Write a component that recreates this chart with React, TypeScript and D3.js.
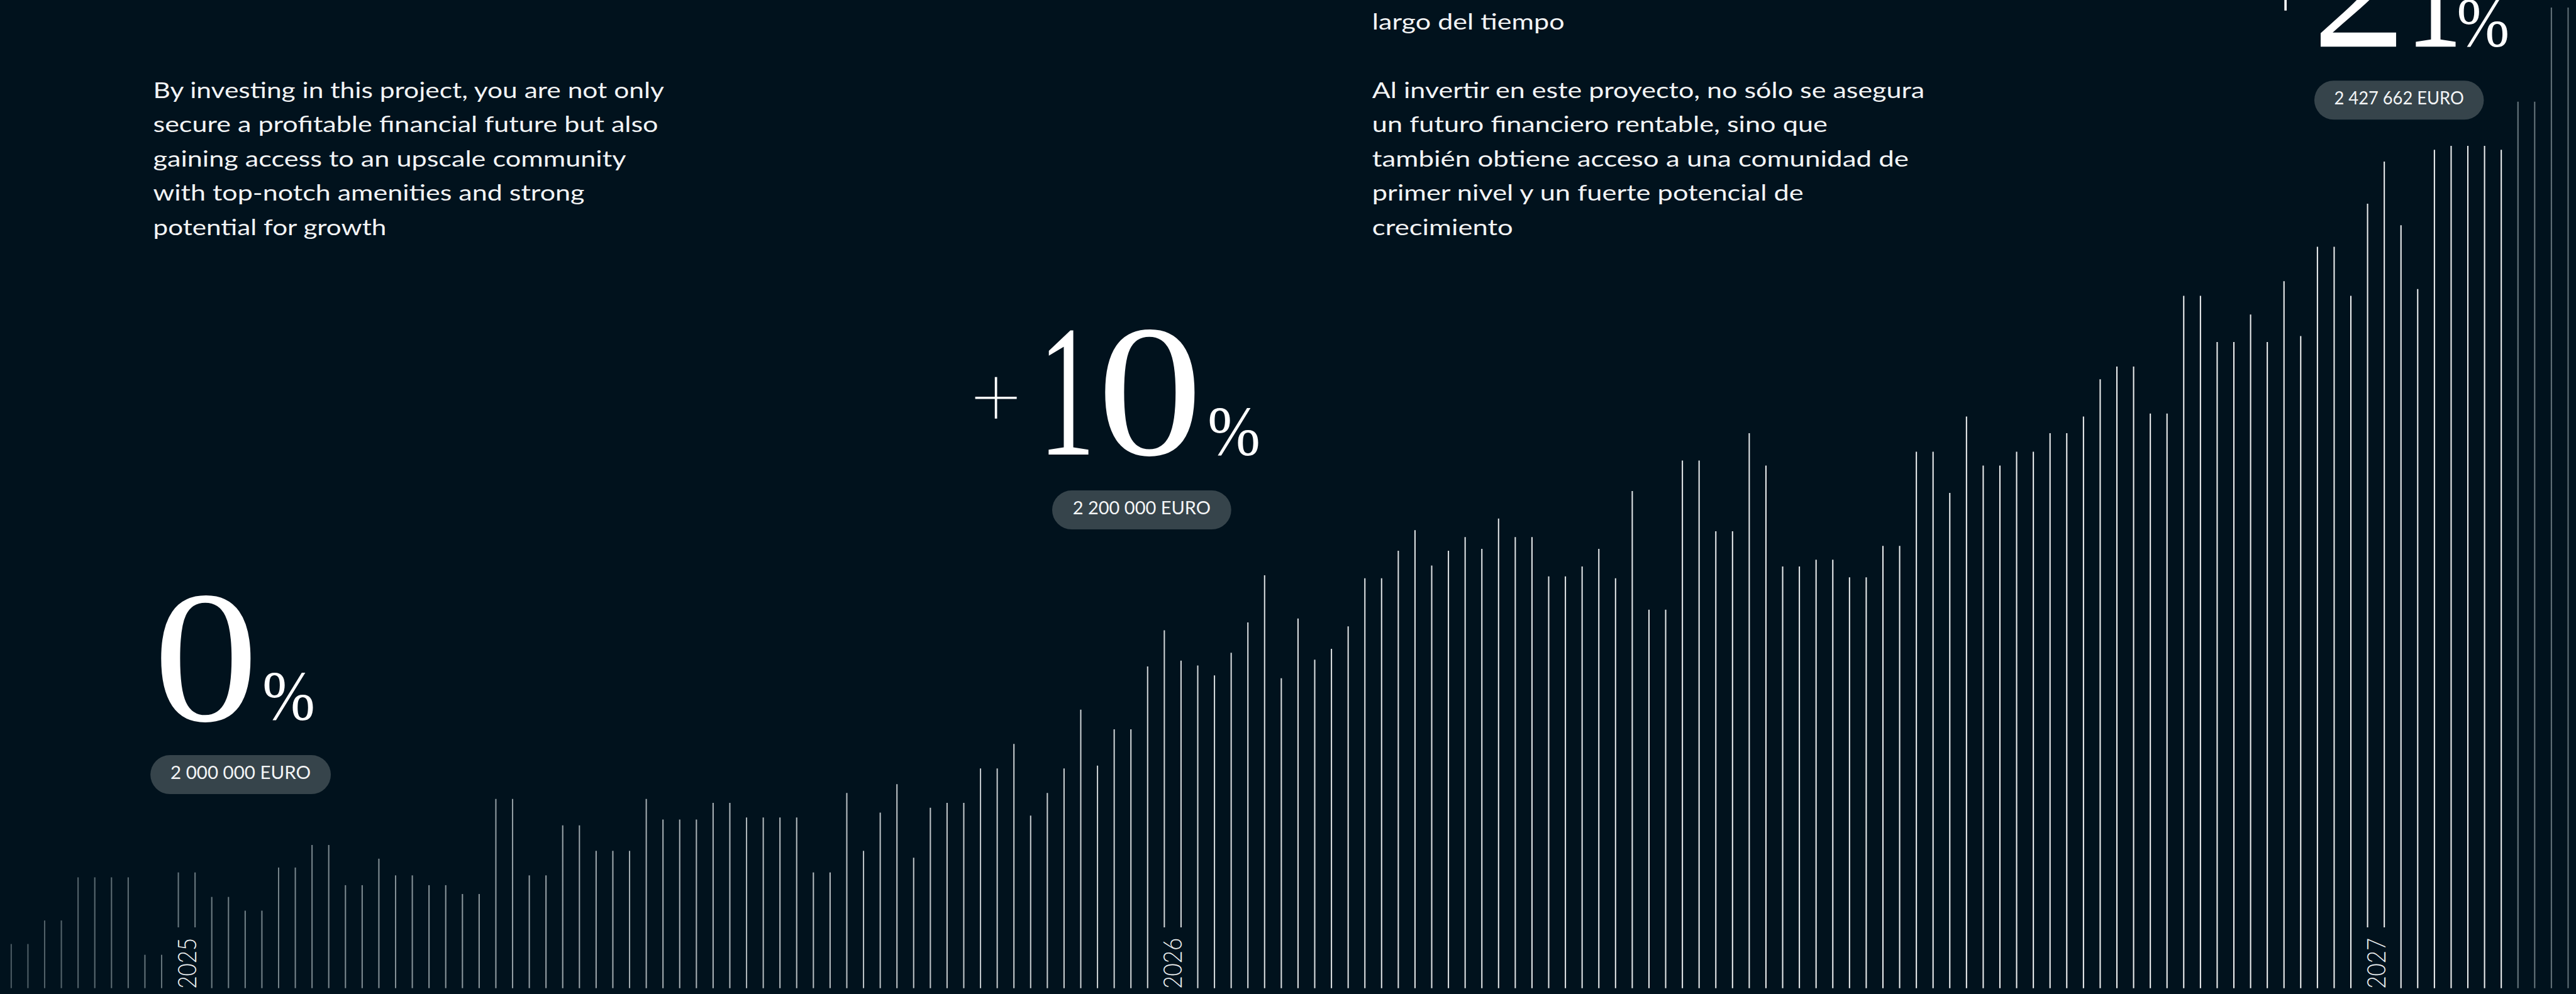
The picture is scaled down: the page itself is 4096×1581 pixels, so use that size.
import React from 'react';
import * as d3 from 'd3';

// ---------- data ----------
const barValues = [
  4.5, 4.5, 6.9, 6.9, 11.3, 11.3, 11.3, 11.3, 3.4, 3.4, 11.8, 11.8, 9.3, 9.3, 7.9, 7.9, 12.3, 12.3, 14.6, 14.6,
  10.5, 10.5, 13.2, 11.5, 11.5, 10.5, 10.5, 9.6, 9.6, 19.3, 19.3, 11.5, 11.5, 16.6, 16.6, 14.0, 14.0, 14.0,
  19.3, 17.2, 17.2, 17.2, 18.9, 18.9, 17.4, 17.4, 17.4, 17.4, 11.8, 11.8, 19.9, 14.0, 17.9, 20.8, 13.3, 18.4,
  18.9, 18.9, 22.4, 22.4, 24.9, 17.6, 19.9, 22.4, 28.4, 22.7, 26.4, 26.4, 32.8, 36.5, 33.4, 32.9, 31.9, 34.2,
  37.3, 42.1, 31.6,
  37.7, 33.5, 34.6, 36.9, 41.8, 41.8, 44.6, 46.7, 43.1, 44.6, 46.0, 44.8, 47.9, 46.0, 46.0, 42.0, 42.0, 43.0,
  44.8, 41.8, 50.7, 38.6, 38.6, 53.8, 53.8, 46.6, 46.6, 56.6, 53.3, 43.0, 43.0, 43.7, 43.7, 41.9, 41.9, 45.1,
  45.1, 54.7,
  54.7, 50.5, 58.3, 53.3, 53.3, 54.7, 54.7, 56.6, 56.6, 58.3, 62.1, 63.4, 63.4, 58.6, 58.6, 70.6, 70.6, 65.9,
  65.9, 68.7, 65.9, 72.1, 66.5, 75.6, 75.6, 70.6, 80.0, 84.3, 77.8, 71.3, 85.5, 85.9, 85.9, 85.9, 85.5, 90.4,
  90.4, 100, 100,
];

const yearLabels = ['2025', '2026', '2027'];
const yearBarIndex = [10, 69, 141]; // label sits between bar i and i+1

const milestonePct = [0, 10, 21];
const milestoneAmount = [2000000, 2200000, 2427662];

const englishLines = [
  'By investing in this project, you are not only',
  'secure a profitable financial future but also',
  'gaining access to an upscale community',
  'with top-notch amenities and strong',
  'potential for growth',
];

const spanishLines = [
  'ofrece una rentabilidad estable (y segura) a lo',
  'largo del tiempo',
  '',
  'Al invertir en este proyecto, no sólo se asegura',
  'un futuro financiero rentable, sino que',
  'también obtiene acceso a una comunidad de',
  'primer nivel y un fuerte potencial de',
  'crecimiento',
];

// ---------- layout (reference pixel space) ----------
const REF_W = 4407;
const S = 4096 / REF_W;
const BASE = 1691;
const GAP_END = 1587;

const englishWidths = [874, 864, 809, 738, 399];
const spanishWidths = [0, 329, 0, 945, 779, 918, 738, 241];
const LINE_H = 58.6;
const PARA_BASE = 167.5;

const digitScaleX: Record<string, number> = { '0': 1.12, '1': 0.6, '2': 1 };

const milestoneLayout = [
  { digitX: [262], base: 1233, plus: [0, 0], pctX: 449, pctBase: 1232, pill: [257.3, 1292.3, 308.7], tw: 240 },
  { digitX: [1777, 1877], base: 778, plus: [1704, 672], pctX: 2066, pctBase: 779, pill: [1800, 839.3, 306.4], tw: 236 },
  { digitX: [3956, 4116], base: 80, plus: [3910, -27], pctX: 4203, pctBase: 80, pill: [3959.3, 138, 290], tw: 222 },
];

const fmtAmount = (v: number) => d3.format(',')(v).replace(/,/g, ' ') + ' EURO';

export default function App() {
  const x = d3.scaleLinear().domain([0, barValues.length - 1]).range([19.2, 4393.5]);
  const y = d3.scaleLinear().domain([0, 100]).range([BASE, 13]);

  const gapSet = new Set<number>();
  yearBarIndex.forEach((i) => { gapSet.add(i); gapSet.add(i + 1); });

  const sans = 'Lato, "Noto Sans", sans-serif';
  const serif = '"Liberation Serif", "DejaVu Serif", serif';

  return (
    <svg width={4096} height={1581} style={{ position: 'fixed', left: 0, top: 0, display: 'block' }}>
      <rect width={4096} height={1581} fill="#01121d" />
      <g transform={`scale(${S})`}>
        <defs>
          <linearGradient id="barGrad" gradientUnits="userSpaceOnUse" x1={0} y1={0} x2={REF_W} y2={0}>
            <stop offset={0} stopColor="#4a5a62" />
            <stop offset={0.08} stopColor="#6d7c83" />
            <stop offset={0.3} stopColor="#b3babe" />
            <stop offset={0.5} stopColor="#dde1e3" />
            <stop offset={0.8} stopColor="#eef0f1" />
            <stop offset={0.972} stopColor="#eef0f1" />
            <stop offset={0.9755} stopColor="#6a7980" />
            <stop offset={1} stopColor="#5f6e75" />
          </linearGradient>
        </defs>

        {/* bars */}
        <g>
          {barValues.map((v, i) => (
            <line
              key={i}
              x1={x(i)}
              x2={x(i)}
              y1={y(v)}
              y2={gapSet.has(i) ? GAP_END : BASE}
              stroke="url(#barGrad)"
              strokeWidth={2.2}
            />
          ))}
        </g>

        {/* year labels */}
        <g>
          {yearLabels.map((t, k) => {
            const cx = (x(yearBarIndex[k]) + x(yearBarIndex[k] + 1)) / 2;
            const bx = cx + 15.8;
            const by = 1692;
            return (
              <text
                key={t}
                transform={`translate(${bx},${by}) rotate(-90)`}
                fontFamily={sans}
                fontWeight={300}
                fontSize={44}
                fill="#eef1f2"
                textLength={87}
                lengthAdjust="spacingAndGlyphs"
              >
                {t}
              </text>
            );
          })}
        </g>

        {/* paragraphs */}
        <g fontFamily={sans} fontWeight={400} fontSize={38} fill="#f2f4f5">
          {englishLines.map((t, i) => (
            <text key={'e' + i} x={262} y={PARA_BASE + i * LINE_H} textLength={englishWidths[i]} lengthAdjust="spacingAndGlyphs">
              {t}
            </text>
          ))}
          {spanishLines.map((t, i) =>
            t ? (
              <text
                key={'s' + i}
                x={2347.5}
                y={PARA_BASE + (i - 3) * LINE_H}
                {...(spanishWidths[i] ? { textLength: spanishWidths[i], lengthAdjust: 'spacingAndGlyphs' } : {})}
              >
                {t}
              </text>
            ) : null
          )}
        </g>

        {/* milestones */}
        {milestonePct.map((p, k) => {
          const L = milestoneLayout[k];
          const digits = String(p).split('');
          const [px, py, pw] = L.pill;
          const ph = 66.7;
          return (
            <g key={'m' + k}>
              {p > 0 && (
                <text
                  x={L.plus[0]}
                  y={L.plus[1] + 58}
                  textAnchor="middle"
                  fontFamily='Inter, "DejaVu Sans", sans-serif'
                  fontWeight={100}
                  fontSize={172}
                  fill="#ffffff"
                >
                  +
                </text>
              )}
              {digits.map((d, j) => (
                <text
                  key={j}
                  transform={`translate(${L.digitX[j]},${L.base}) scale(${digitScaleX[d] ?? 1},1)`}
                  fontFamily={serif}
                  fontSize={322}
                  fill="#ffffff"
                >
                  {d}
                </text>
              ))}
              <text
                transform={`translate(${L.pctX},${L.pctBase}) scale(0.9,1)`}
                fontFamily={serif}
                fontSize={120}
                fill="#ffffff"
              >
                %
              </text>
              <rect x={px} y={py} width={pw} height={ph} rx={ph / 2} ry={ph / 2} fill="#36444b" />
              <text
                x={px + pw / 2}
                y={py + 41}
                textAnchor="middle"
                fontFamily={sans}
                fontWeight={400}
                fontSize={32}
                fill="#f3f5f6"
                textLength={L.tw}
                lengthAdjust="spacingAndGlyphs"
              >
                {fmtAmount(milestoneAmount[k])}
              </text>
            </g>
          );
        })}
      </g>
    </svg>
  );
}
